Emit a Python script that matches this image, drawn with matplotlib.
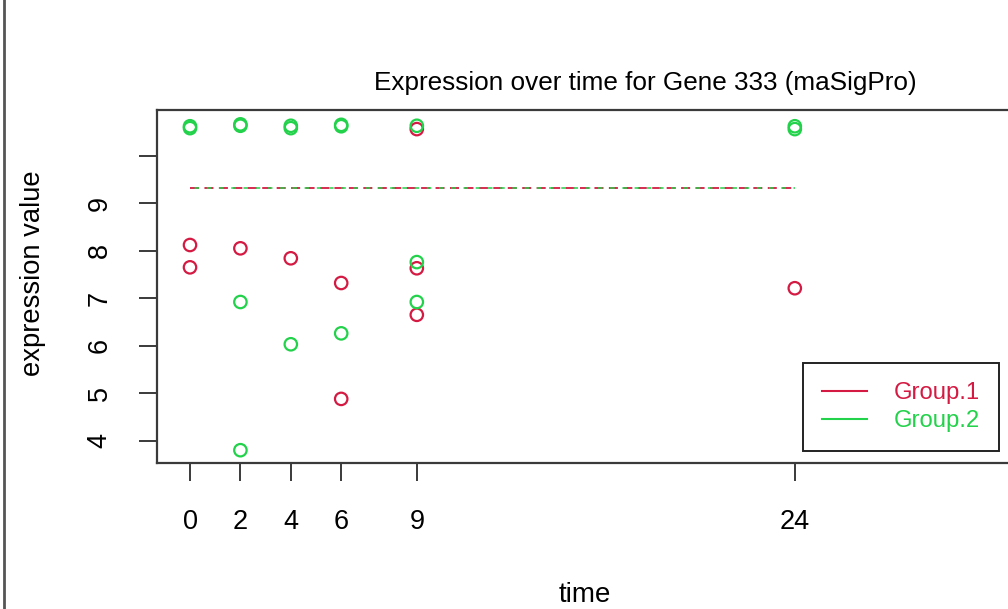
import matplotlib

matplotlib.use("Agg")
import matplotlib.pyplot as plt
from matplotlib.lines import Line2D

plt.rcParams["font.family"] = ["Liberation Sans", "DejaVu Sans"]

# time points and expression values per group
g1_time = [0, 0, 2, 4, 6, 6, 9, 9, 9, 24]
g1_expr = [8.12, 7.65, 8.05, 7.84, 7.32, 4.88, 7.63, 6.65, 10.56, 7.21]

g2_time = [0, 0, 2, 2, 2, 2, 4, 4, 4, 6, 6, 6, 9, 9, 9, 24, 24]
g2_expr = [10.62, 10.58, 10.66, 10.63, 6.92, 3.80, 10.63, 10.58, 6.03,
           10.65, 10.62, 6.26, 7.76, 6.92, 10.63, 10.62, 10.56]

fit_time = [0, 24]
fit_expr = [9.32, 9.32]

xticks = [0, 2, 4, 6, 9, 24]
yticks = [4, 5, 6, 7, 8, 9, 10]
ytick_labels = ["4", "5", "6", "7", "8", "9", ""]

red = "#d41a42"
green = "#22d24a"
axis_col = "#3a3a3a"

W, H = 1008, 609
fig = plt.figure(figsize=(W / 100, H / 100), dpi=100)

left, right, top, bottom = 157, 1040, 110, 463
ax = fig.add_axes([left / W, 1 - bottom / H, (right - left) / W, (bottom - top) / H])

px_per_x = 25.2
ax.set_xlim((left - 190) / px_per_x, (right - 190) / px_per_x)
px_per_y = 47.5
ax.set_ylim(4 - (bottom - 440.7) / px_per_y, 4 + (440.7 - top) / px_per_y)

# fitted curves of both groups coincide, so the dashes interleave
ax.plot(fit_time, fit_expr, color=red, lw=1.3, linestyle=(0, (5, 3)))
ax.plot(fit_time, fit_expr, color=green, lw=1.1, linestyle=(5, (3, 5)))

ax.scatter(g1_time, g1_expr, s=80, facecolors="none", edgecolors=red, linewidths=1.6, zorder=3)
ax.scatter(g2_time, g2_expr, s=80, facecolors="none", edgecolors=green, linewidths=1.6, zorder=4)

for side in ["left", "bottom", "top"]:
    ax.spines[side].set_color(axis_col)
    ax.spines[side].set_linewidth(1.6)
ax.spines["right"].set_visible(False)

ax.set_xticks(xticks)
ax.set_xticklabels([str(t) for t in xticks])
ax.set_yticks(yticks)
ax.set_yticklabels(ytick_labels, rotation=90, va="center")
ax.tick_params(axis="both", length=13, width=1.4, color=axis_col, labelsize=19.5)
ax.tick_params(axis="x", pad=20)
ax.tick_params(axis="y", pad=19)

fig.text(645 / W, 1 - 83 / H, "Expression over time for Gene 333 (maSigPro)",
         ha="center", va="center", fontsize=18.8)
fig.text(585 / W, 1 - 595 / H, "time", ha="center", va="center", fontsize=20)
fig.text(33 / W, 1 - 273 / H, "expression value", ha="center", va="center",
         rotation=90, fontsize=19.7)

handles = [Line2D([], [], color=red, lw=1.5), Line2D([], [], color=green, lw=1.5)]
leg = ax.legend(handles, ["Group.1", "Group.2"], loc="lower right",
                bbox_to_anchor=(999 / W, 1 - 451 / H), bbox_transform=fig.transFigure,
                fancybox=False, edgecolor="#222222", framealpha=1, fontsize=17.2,
                labelcolor=[red, green], handlelength=1.9, handletextpad=1.1,
                borderpad=0.8, labelspacing=0.25, borderaxespad=0)
leg.get_frame().set_linewidth(1.4)

# left border line
fig.add_artist(Line2D([4 / W, 4 / W], [0, 1], color="#555555", lw=2))

fig.savefig("out.png", dpi=100)
